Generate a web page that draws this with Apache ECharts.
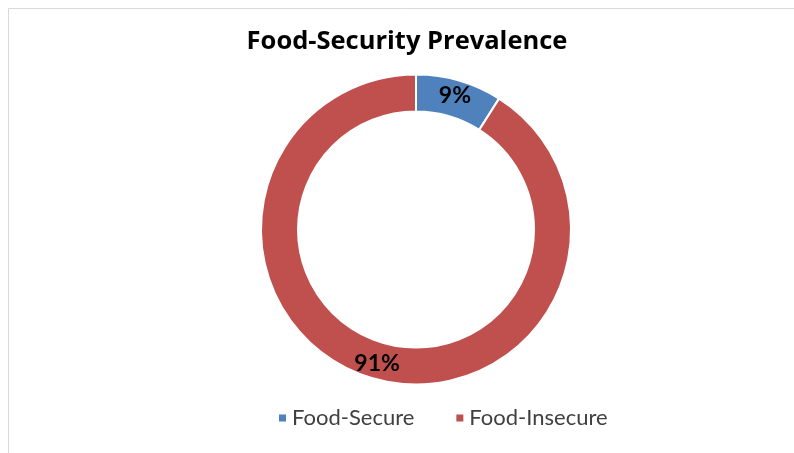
<!DOCTYPE html>
<html><head><meta charset="utf-8">
<script src="https://cdn.jsdelivr.net/npm/echarts@6/dist/echarts.min.js"></script>
<style>html,body{margin:0;padding:0;background:#fff}#c{width:794px;height:453px}</style>
</head><body><div id="c"></div>
<script>
const categories = ['Food-Secure', 'Food-Insecure'];
const values = [9, 91];
const colors = ['#4F81BD', '#C0504D'];
const titleText = 'Food-Security Prevalence';

const chart = echarts.init(document.getElementById('c'), null, {renderer: 'canvas'});
chart.setOption({
  animation: false,
  backgroundColor: '#fff',
  graphic: [{
    type: 'rect', shape: {x: 8.5, y: 8.5, width: 800, height: 460},
    style: {fill: 'none', stroke: '#d9d9d9', lineWidth: 1}, silent: true
  }],
  title: {
    text: titleText, left: 402, top: 24, textAlign: 'center',
    textStyle: {fontFamily: 'Open Sans', fontWeight: 'bold', fontSize: 25.5, color: '#000'}
  },
  legend: {
    data: categories, bottom: 19, left: 272,
    icon: 'rect', itemWidth: 9, itemHeight: 9, itemGap: 40,
    textStyle: {fontFamily: 'Lato', fontSize: 22, color: '#404040'}
  },
  series: [{
    type: 'pie', center: [416, 229.5], radius: [118, 155],
    startAngle: 90, clockwise: true, avoidLabelOverlap: false,
    itemStyle: {borderColor: '#fff', borderWidth: 2},
    label: {
      show: true, position: 'inside', formatter: '{c}%',
      fontFamily: 'Lato', fontWeight: 'bold', fontSize: 23, color: '#000'
    },
    labelLine: {show: false},
    data: categories.map((n, i) => ({name: n, value: values[i], itemStyle: {color: colors[i]}}))
  }]
});
</script></body></html>
